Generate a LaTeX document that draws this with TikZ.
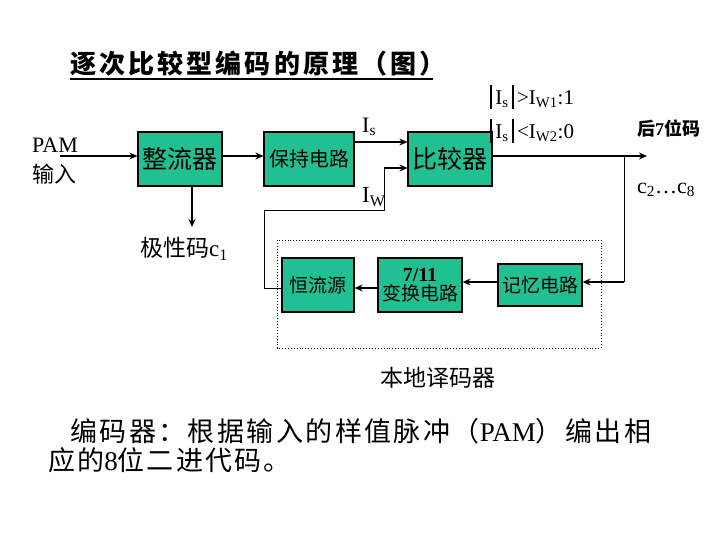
\documentclass[tikz,border=0pt]{standalone}
\usepackage{fontspec}
\setmainfont{Liberation Serif}
\newfontfamily\cjk{Noto Sans CJK SC}
\usetikzlibrary{arrows.meta}
\definecolor{boxc}{RGB}{32,192,146}
\newcommand{\fs}[1]{\fontsize{#1}{#1}\selectfont}
\newcommand{\vbar}{\rule[-0.22em]{1.6pt}{1.15em}}
\tikzset{
  blk/.style={draw=black, line width=1.2pt, fill=boxc, inner sep=0pt, align=center},
  thk/.style={line width=2.2pt, -{Stealth[length=8pt,width=7pt]}},
  thn/.style={line width=0.9pt},
  lbl/.style={inner sep=0pt, anchor=west}
}
\begin{document}
\begin{tikzpicture}[x=1pt,y=-1pt]
\useasboundingbox (0,0) rectangle (720,540);
% title
\node[lbl] (title) at (70,64) {\cjk\bfseries\fs{26}\addfontfeature{LetterSpace=12}逐次比较型编码的原理（图）};
\draw[line width=2pt] (70,79) -- (433,79);
% boxes
\node[blk, minimum width=84pt, minimum height=54pt] (zl) at (180,159) {\cjk\fs{25}整流器};
\node[blk, minimum width=90pt, minimum height=54pt] (bc) at (309,159) {\cjk\fs{20}保持电路};
\node[blk, minimum width=84pt, minimum height=54pt] (bj) at (450,159) {\cjk\fs{25}比较器};
\node[blk, minimum width=72pt, minimum height=54pt] (hl) at (318,285) {\cjk\fs{19}恒流源};
\node[blk, minimum width=84pt, minimum height=54pt] (bh) at (420,285) {\fs{20}\bfseries 7/11\\[2pt]\cjk\fs{19}变换电路};
\node[blk, minimum width=84pt, minimum height=42pt] (jy) at (540,285) {\cjk\fs{19}记忆电路};
\draw[line width=0.9pt, dotted] (277,240) rectangle (601,348);
% labels
\node[lbl] (pam) at (32,145) {\fs{22}PAM};
\node[lbl] (sr) at (32,174) {\cjk\fs{22}输入};
\node[lbl] (jx) at (140,249) {\fs{23}{\cjk 极性码}c\textsubscript{1}};
\node[lbl] (is) at (362,127) {\fs{22}I\textsubscript{s}};
\node[lbl] (iw) at (362,197) {\fs{23}I\textsubscript{W}};
\node[lbl] (c1) at (490,97) {\fs{21}\vbar\,I\textsubscript{s}\,\vbar\,>I\textsubscript{W1}:1};
\node[lbl] (c0) at (490,131) {\fs{21}\vbar\,I\textsubscript{s}\,\vbar\,<I\textsubscript{W2}:0};
\node[lbl] (h7) at (637,129) {\fs{18}\bfseries{\cjk 后}7{\cjk 位码}};
\node[lbl] (c28) at (637,190) {\fs{22}c\textsubscript{2}\ldots c\textsubscript{8}};
\node (bd) at (438,378) {\cjk\fs{23}本地译码器};
\node[lbl] (t1) at (70,431) {\fs{27}\cjk\addfontfeature{LetterSpace=9}编码器：根据输入的样值脉冲（{\fontspec{Liberation Serif}PAM}）编出相};
\node[lbl] (t2) at (48,460) {\fs{27}\cjk\addfontfeature{LetterSpace=8}应的{\fontspec{Liberation Serif}8}位二进代码。};
% coordinates
\coordinate (pamin) at (60,156);
\coordinate (outend) at (647,156);
\coordinate (br) at (624,156);
\coordinate (brd) at (624,282);
\coordinate (fl1) at (264,288);
\coordinate (fl2) at (264,210);
\coordinate (fl3) at (384,210);
\coordinate (fl4) at (384,168);
% connectors
\draw[thk] (pamin) -- (pamin -| zl.west);
\draw[thk] (zl.east |- 0,156) -- (bc.west |- 0,156);
\draw[thk] (bc.east |- 0,142) -- (bj.west |- 0,142);
\draw[thk] (192,186) -- (192,227);
\draw[thn] (hl.west |- fl1) -- (fl1) -- (fl2) -- (fl3) -- (fl4);
\draw[thk] (fl4) -- (fl4 -| bj.west);
\draw[thk] (bj.east |- outend) -- (outend);
\draw[thn] (br) -- (brd);
\draw[thk] (brd) -- (brd -| jy.east);
\draw[thk] (jy.west |- 0,282) -- (bh.east |- 0,282);
\draw[thk] (bh.west |- 0,288) -- (hl.east |- 0,288);
\end{tikzpicture}
\end{document}
